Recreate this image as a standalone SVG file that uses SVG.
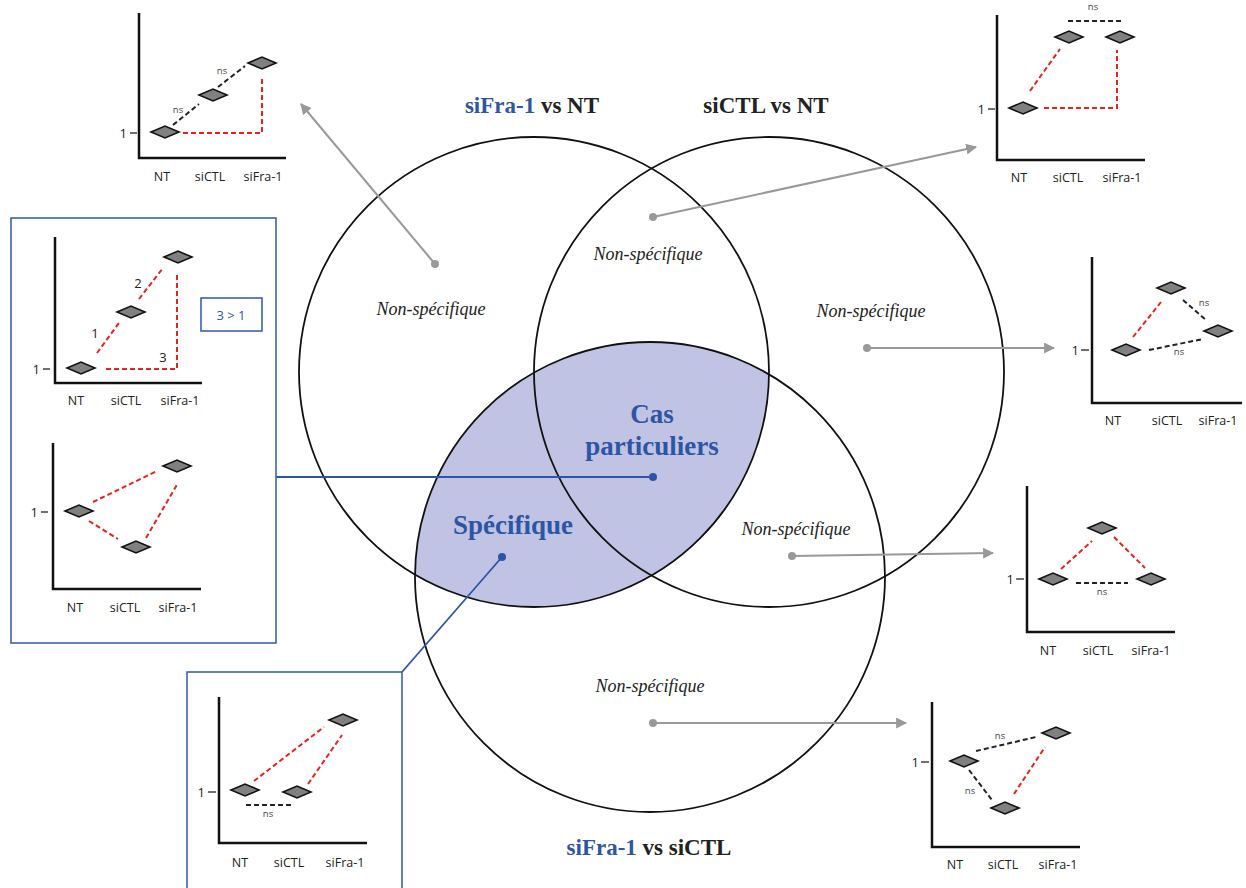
<svg xmlns="http://www.w3.org/2000/svg" width="1246" height="888" viewBox="0 0 1246 888">
<style>
.ax{fill:none;stroke:#111;stroke-width:2.5}
.tk{stroke:#111;stroke-width:1.2}
.dm{fill:#808080;stroke:#111;stroke-width:1.6}
.rd{fill:none;stroke:#e8231c;stroke-width:2;stroke-dasharray:5 3}
.bk{fill:none;stroke:#222;stroke-width:2;stroke-dasharray:5 3}
.lb{font-family:"Open Sans","Liberation Sans",sans-serif;font-size:12.5px;fill:#222;text-anchor:middle}
.one{font-family:"Open Sans","Liberation Sans",sans-serif;font-size:13px;fill:#222;text-anchor:end}
.ns{font-family:"Open Sans","Liberation Sans",sans-serif;font-size:9.5px;fill:#444;text-anchor:middle}
.num{font-family:"Open Sans","Liberation Sans",sans-serif;font-size:13px;fill:#222;text-anchor:middle}
.nsp{font-family:"Liberation Serif","Times New Roman",serif;font-style:italic;font-size:18px;fill:#222;text-anchor:middle}
.ttl{font-family:"Liberation Serif","Times New Roman",serif;font-weight:bold;font-size:23px;fill:#222;text-anchor:middle}
.blue{fill:#2e55a3}
.big{font-family:"Liberation Serif","Times New Roman",serif;font-weight:bold;font-size:27px;fill:#2e55a3;text-anchor:middle}
.circ{fill:none;stroke:#111;stroke-width:1.8}
.gar{fill:none;stroke:#999;stroke-width:2}
.gdot{fill:#999}
.bln{fill:none;stroke:#2e55a3;stroke-width:1.8}
.bdot{fill:#2e55a3}
.box{fill:none;stroke:#3b62b0;stroke-width:1.6}
</style>
<defs>
<path id="dm" d="M-14,0 L0,-6 L14,0 L0,6 Z"/>
<marker id="ga" viewBox="0 0 10 10" refX="9" refY="5" markerWidth="5.5" markerHeight="5.5" orient="auto" markerUnits="strokeWidth">
<path d="M0,0 L10,5 L0,10 Z" fill="#999"/>
</marker>
<clipPath id="c1"><circle cx="534" cy="372" r="235"/></clipPath>
</defs>
<rect width="1246" height="888" fill="#fff"/>

<g id="venn">
<circle cx="650" cy="577" r="235" fill="#c0c3e3" clip-path="url(#c1)"/>
<circle class="circ" cx="534" cy="372" r="235"/>
<circle class="circ" cx="769" cy="372" r="235"/>
<circle class="circ" cx="650" cy="577" r="235"/>
</g>

<g id="titles">
<text class="ttl" x="532" y="113"><tspan class="blue">siFra-1</tspan> vs NT</text>
<text class="ttl" x="766" y="113">siCTL vs NT</text>
<text class="ttl" x="649" y="855"><tspan class="blue">siFra-1</tspan> vs siCTL</text>
</g>

<g id="regions">
<text class="nsp" x="431" y="315">Non-spécifique</text>
<text class="nsp" x="648" y="260">Non-spécifique</text>
<text class="nsp" x="871" y="317">Non-spécifique</text>
<text class="nsp" x="796" y="535">Non-spécifique</text>
<text class="nsp" x="650" y="692">Non-spécifique</text>
<text class="big" x="652" y="423">Cas</text>
<text class="big" x="652" y="455">particuliers</text>
<text class="big" x="513" y="534">Spécifique</text>
</g>

<g id="connectors">
<line class="gar" x1="435" y1="264" x2="301" y2="104" marker-end="url(#ga)"/>
<line class="gar" x1="653" y1="217" x2="976" y2="147" marker-end="url(#ga)"/>
<line class="gar" x1="867" y1="348" x2="1054" y2="348" marker-end="url(#ga)"/>
<line class="gar" x1="792" y1="556" x2="993" y2="553" marker-end="url(#ga)"/>
<line class="gar" x1="653" y1="723" x2="906" y2="723" marker-end="url(#ga)"/>
<circle class="gdot" cx="435" cy="264" r="4"/>
<circle class="gdot" cx="653" cy="217" r="4"/>
<circle class="gdot" cx="867" cy="348" r="4"/>
<circle class="gdot" cx="792" cy="556" r="4"/>
<circle class="gdot" cx="653" cy="723" r="4"/>
<line class="bln" x1="276" y1="477" x2="653" y2="477"/>
<circle class="bdot" cx="653" cy="477" r="4"/>
<line class="bln" x1="402" y1="672" x2="502" y2="557"/>
<circle class="bdot" cx="502" cy="557" r="4"/>
</g>

<g id="box-left">
<rect class="box" x="11" y="218" width="265" height="425"/>
</g>
<g id="box-bottom">
<rect class="box" x="187" y="672" width="215" height="230"/>
</g>

<g id="chart-top-left">
<path class="ax" d="M139,13 V158 H286"/>
<line class="tk" x1="130" y1="133" x2="137" y2="133"/>
<text class="one" x="127" y="138">1</text>
<line class="bk" x1="173" y1="125" x2="199" y2="104"/>
<line class="bk" x1="218" y1="87" x2="245" y2="66"/>
<text class="ns" x="178" y="113">ns</text>
<text class="ns" x="222" y="74">ns</text>
<path class="rd" d="M183,133 H262 V76"/>
<use href="#dm" class="dm" x="165" y="132"/>
<use href="#dm" class="dm" x="213" y="95"/>
<use href="#dm" class="dm" x="262" y="63"/>
<text class="lb" x="162" y="181">NT</text>
<text class="lb" x="210" y="181">siCTL</text>
<text class="lb" x="263" y="181">siFra-1</text>
</g>

<g id="chart-top-right">
<path class="ax" d="M997,15 V160 H1145"/>
<line class="tk" x1="988" y1="109" x2="995" y2="109"/>
<text class="one" x="985" y="114">1</text>
<line class="bk" x1="1068" y1="21" x2="1122" y2="21"/>
<text class="ns" x="1093" y="10">ns</text>
<line class="rd" x1="1030" y1="91" x2="1060" y2="49"/>
<path class="rd" d="M1044,108 H1117 V50"/>
<use href="#dm" class="dm" x="1023" y="108"/>
<use href="#dm" class="dm" x="1069" y="37"/>
<use href="#dm" class="dm" x="1120" y="37"/>
<text class="lb" x="1019" y="182">NT</text>
<text class="lb" x="1068" y="182">siCTL</text>
<text class="lb" x="1122" y="182">siFra-1</text>
</g>

<g id="chart-left-upper">
<path class="ax" d="M55,237 V383 H202"/>
<line class="tk" x1="43" y1="369" x2="50" y2="369"/>
<text class="one" x="40" y="374">1</text>
<line class="rd" x1="97" y1="353" x2="119" y2="323"/>
<line class="rd" x1="139" y1="299" x2="163" y2="268"/>
<path class="rd" d="M106,369 H177 V272"/>
<text class="num" x="95" y="338">1</text>
<text class="num" x="138" y="288">2</text>
<text class="num" x="163" y="362">3</text>
<use href="#dm" class="dm" x="81" y="368"/>
<use href="#dm" class="dm" x="131" y="312"/>
<use href="#dm" class="dm" x="178" y="257"/>
<text class="lb" x="76" y="405">NT</text>
<text class="lb" x="126" y="405">siCTL</text>
<text class="lb" x="180" y="405">siFra-1</text>
<rect class="box" x="201" y="298" width="61" height="33"/>
<text class="num" x="231" y="320" style="fill:#2e55a3">3 &gt; 1</text>
</g>

<g id="chart-left-lower">
<path class="ax" d="M53,443 V589 H201"/>
<line class="tk" x1="41" y1="512" x2="48" y2="512"/>
<text class="one" x="38" y="517">1</text>
<line class="rd" x1="93" y1="502" x2="157" y2="471"/>
<line class="rd" x1="89" y1="521" x2="118" y2="539"/>
<line class="rd" x1="146" y1="538" x2="178" y2="483"/>
<use href="#dm" class="dm" x="79" y="511"/>
<use href="#dm" class="dm" x="136" y="547"/>
<use href="#dm" class="dm" x="177" y="466"/>
<text class="lb" x="75" y="612">NT</text>
<text class="lb" x="125" y="612">siCTL</text>
<text class="lb" x="178" y="612">siFra-1</text>
</g>

<g id="chart-right-1">
<path class="ax" d="M1092,257 V403 H1242"/>
<line class="tk" x1="1081" y1="350" x2="1089" y2="350"/>
<text class="one" x="1079" y="355">1</text>
<line class="rd" x1="1133" y1="337" x2="1161" y2="302"/>
<line class="bk" x1="1183" y1="300" x2="1207" y2="321"/>
<line class="bk" x1="1149" y1="350" x2="1203" y2="339"/>
<text class="ns" x="1204" y="306">ns</text>
<text class="ns" x="1179" y="355">ns</text>
<use href="#dm" class="dm" x="1126" y="350"/>
<use href="#dm" class="dm" x="1171" y="288"/>
<use href="#dm" class="dm" x="1218" y="331"/>
<text class="lb" x="1113" y="425">NT</text>
<text class="lb" x="1167" y="425">siCTL</text>
<text class="lb" x="1218" y="425">siFra-1</text>
</g>

<g id="chart-right-2">
<path class="ax" d="M1027,486 V632 H1175"/>
<line class="tk" x1="1016" y1="579" x2="1024" y2="579"/>
<text class="one" x="1014" y="584">1</text>
<line class="rd" x1="1061" y1="569" x2="1092" y2="541"/>
<line class="rd" x1="1114" y1="537" x2="1145" y2="568"/>
<line class="bk" x1="1076" y1="583" x2="1128" y2="583"/>
<text class="ns" x="1102" y="595">ns</text>
<use href="#dm" class="dm" x="1053" y="579"/>
<use href="#dm" class="dm" x="1102" y="528"/>
<use href="#dm" class="dm" x="1151" y="579"/>
<text class="lb" x="1048" y="655">NT</text>
<text class="lb" x="1098" y="655">siCTL</text>
<text class="lb" x="1151" y="655">siFra-1</text>
</g>

<g id="chart-right-3">
<path class="ax" d="M932,702 V847 H1080"/>
<line class="tk" x1="921" y1="762" x2="929" y2="762"/>
<text class="one" x="919" y="767">1</text>
<line class="bk" x1="976" y1="751" x2="1036" y2="737"/>
<line class="bk" x1="969" y1="770" x2="992" y2="800"/>
<text class="ns" x="1000" y="739">ns</text>
<text class="ns" x="970" y="794">ns</text>
<line class="rd" x1="1014" y1="794" x2="1045" y2="747"/>
<use href="#dm" class="dm" x="964" y="761"/>
<use href="#dm" class="dm" x="1005" y="808"/>
<use href="#dm" class="dm" x="1056" y="733"/>
<text class="lb" x="955" y="869">NT</text>
<text class="lb" x="1003" y="869">siCTL</text>
<text class="lb" x="1058" y="869">siFra-1</text>
</g>

<g id="chart-bottom">
<path class="ax" d="M219,697 V843 H367"/>
<line class="tk" x1="208" y1="792" x2="216" y2="792"/>
<text class="one" x="205" y="797">1</text>
<line class="rd" x1="254" y1="781" x2="324" y2="727"/>
<line class="rd" x1="308" y1="784" x2="342" y2="735"/>
<line class="bk" x1="246" y1="805" x2="294" y2="805"/>
<text class="ns" x="268" y="817">ns</text>
<use href="#dm" class="dm" x="245" y="790"/>
<use href="#dm" class="dm" x="297" y="792"/>
<use href="#dm" class="dm" x="343" y="720"/>
<text class="lb" x="240" y="867">NT</text>
<text class="lb" x="289" y="867">siCTL</text>
<text class="lb" x="345" y="867">siFra-1</text>
</g>
</svg>
